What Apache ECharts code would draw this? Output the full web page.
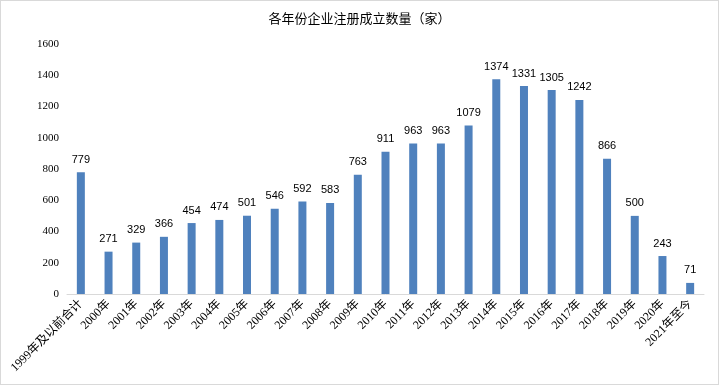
<!DOCTYPE html>
<html><head><meta charset="utf-8">
<script src="https://cdn.jsdelivr.net/npm/echarts@6/dist/echarts.min.js"></script>
<style>html,body{margin:0;padding:0;background:#fff}#c{width:719px;height:385px;box-sizing:border-box;border:1px solid #d9d9d9}</style>
</head><body><div id="c"></div>
<script>
const categories = ['1999年及以前合计','2000年','2001年','2002年','2003年','2004年','2005年','2006年','2007年','2008年','2009年','2010年','2011年','2012年','2013年','2014年','2015年','2016年','2017年','2018年','2019年','2020年','2021年至今'];
const counts = [779,271,329,366,454,474,501,546,592,583,763,911,963,963,1079,1374,1331,1305,1242,866,500,243,71];
const yTicks = [0,200,400,600,800,1000,1200,1400,1600];
const titleText = '各年份企业注册成立数量（家）';

const chart = echarts.init(document.getElementById('c'));
chart.setOption({
  animation:false,
  backgroundColor:'#fff',
  title:{text:titleText,left:'center',top:6,textStyle:{fontFamily:'Noto Sans CJK SC',fontSize:13,fontWeight:'normal',color:'#000'}},
  grid:{left:66,right:14,top:43,bottom:90,containLabel:false},
  xAxis:{type:'category',data:categories,
    axisLine:{lineStyle:{color:'#d9d9d9'}},axisTick:{show:false},
    axisLabel:{rotate:45,interval:0,margin:8,fontFamily:'Liberation Serif, Noto Sans CJK SC',fontSize:12,color:'#000'}},
  yAxis:{type:'value',min:yTicks[0],max:yTicks[yTicks.length-1],interval:200,
    axisLine:{show:false},axisTick:{show:false},splitLine:{show:false},
    axisLabel:{margin:8,fontFamily:'Liberation Serif',fontSize:11,color:'#000',formatter:v=>String(v)}},
  series:[{type:'bar',data:counts,barWidth:8,itemStyle:{color:'#4F81BD'},
    label:{show:true,position:'top',distance:7,fontFamily:'Liberation Sans',fontSize:11,color:'#000'}}]
});
</script></body></html>
